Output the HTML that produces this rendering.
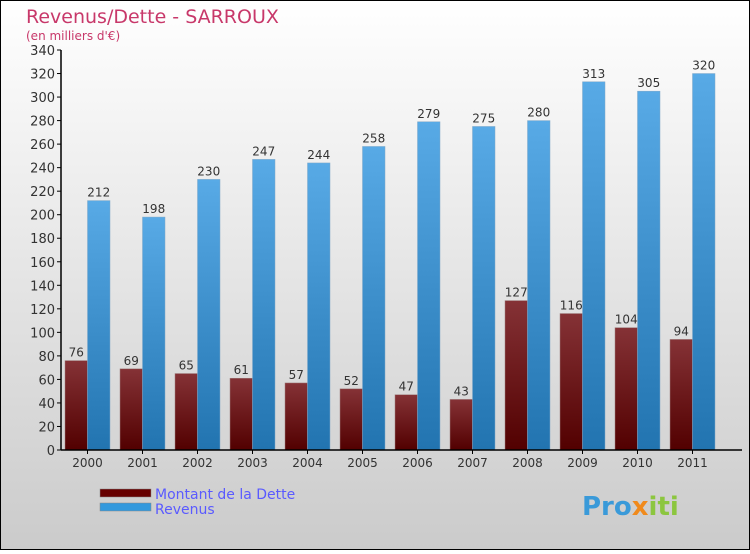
<!DOCTYPE html>
<html><head><meta charset="utf-8"><style>
body{margin:0;width:750px;height:550px;overflow:hidden;font-family:"DejaVu Sans","Liberation Sans",sans-serif}
</style></head><body>
<svg id="c" width="750" height="550" xmlns="http://www.w3.org/2000/svg">
<defs>
<linearGradient id="bg" x1="0" y1="0" x2="0" y2="1"><stop offset="0" stop-color="#ffffff"/><stop offset="1" stop-color="#cbcbcb"/></linearGradient>
<linearGradient id="gd" x1="0" y1="0" x2="0" y2="1"><stop offset="0" stop-color="#853236"/><stop offset="1" stop-color="#520000"/></linearGradient>
<linearGradient id="gr" x1="0" y1="0" x2="0" y2="1"><stop offset="0" stop-color="#58aae6"/><stop offset="1" stop-color="#2274b0"/></linearGradient>
</defs>
<rect x="0.5" y="0.5" width="749" height="549" fill="url(#bg)" stroke="#000"/>
<text x="26" y="23" font-size="19" fill="#c8386a">Revenus/Dette - SARROUX</text>
<text x="26" y="40" font-size="12" fill="#c8386a">(en milliers d'€)</text>
<g id="plot"></g>
<rect x="100" y="489" width="51" height="8" fill="#660000" stroke="#888" stroke-width="0.5"/>
<text x="155" y="499" font-size="14" fill="#5a5aff">Montant de la Dette</text>
<rect x="100" y="503" width="51" height="8" fill="#3399dd" stroke="#888" stroke-width="0.5"/>
<text x="155" y="514" font-size="14" fill="#5a5aff">Revenus</text>
<text x="582" y="515" font-size="26" font-weight="bold" fill="#3a9ad9">Pro<tspan fill="#f08a1c">x</tspan><tspan fill="#8cc63f">iti</tspan></text>
</svg>
<script>
const years=["2000","2001","2002","2003","2004","2005","2006","2007","2008","2009","2010","2011"];
const dette=[76,69,65,61,57,52,47,43,127,116,104,94];
const revenus=[212,198,230,247,244,258,279,275,280,313,305,320];
const yTicks=[0,20,40,60,80,100,120,140,160,180,200,220,240,260,280,300,320,340];
const NS="http://www.w3.org/2000/svg";
const g=document.getElementById('plot');
const y0=450,yTop=50,yMax=340;
const y=v=>y0-(v/yMax)*(y0-yTop);
const gx=i=>65+i*55;
const bw=22.5;
function el(t,a,txt){const e=document.createElementNS(NS,t);for(const k in a)e.setAttribute(k,a[k]);if(txt!==undefined)e.textContent=txt;g.appendChild(e);return e;}
yTicks.forEach(t=>{
 const l=el('line',{x1:57,x2:61,y1:y(t),y2:y(t),stroke:'#000'});
 
 
 const tx=el('text',{x:55,y:y(t)+5,'font-size':13,'text-anchor':'end',fill:'#333'},t);
 
 
});
years.forEach((yr,i)=>{
 const x=gx(i);
 const d=el('rect',{x:x,y:y(dette[i]),width:bw,height:y0-y(dette[i]),fill:'url(#gd)',stroke:'#a08080','stroke-width':0.5});
 
 
 const r=el('rect',{x:x+bw,y:y(revenus[i]),width:bw,height:y0-y(revenus[i]),fill:'url(#gr)',stroke:'#80a8c8','stroke-width':0.5});
 
 
 const dl=el('text',{x:x+bw/2,y:y(dette[i])-4,'font-size':12,'text-anchor':'middle',fill:'#333'},dette[i]);
 
 
 const rl=el('text',{x:x+bw*1.5,y:y(revenus[i])-4,'font-size':12,'text-anchor':'middle',fill:'#333'},revenus[i]);
 
 
 const xl=el('text',{x:x+bw,y:467,'font-size':12,'text-anchor':'middle',fill:'#333'},yr);
 
 
 const xt=el('line',{x1:x+bw,x2:x+bw,y1:450,y2:454,stroke:'#000'});
 
 
});
const ya=el('line',{x1:61,x2:61,y1:50,y2:450,stroke:'#000','stroke-width':1.5});


const xa=el('line',{x1:61,x2:742,y1:450,y2:450,stroke:'#000','stroke-width':1.5});


</script>
</body></html>
